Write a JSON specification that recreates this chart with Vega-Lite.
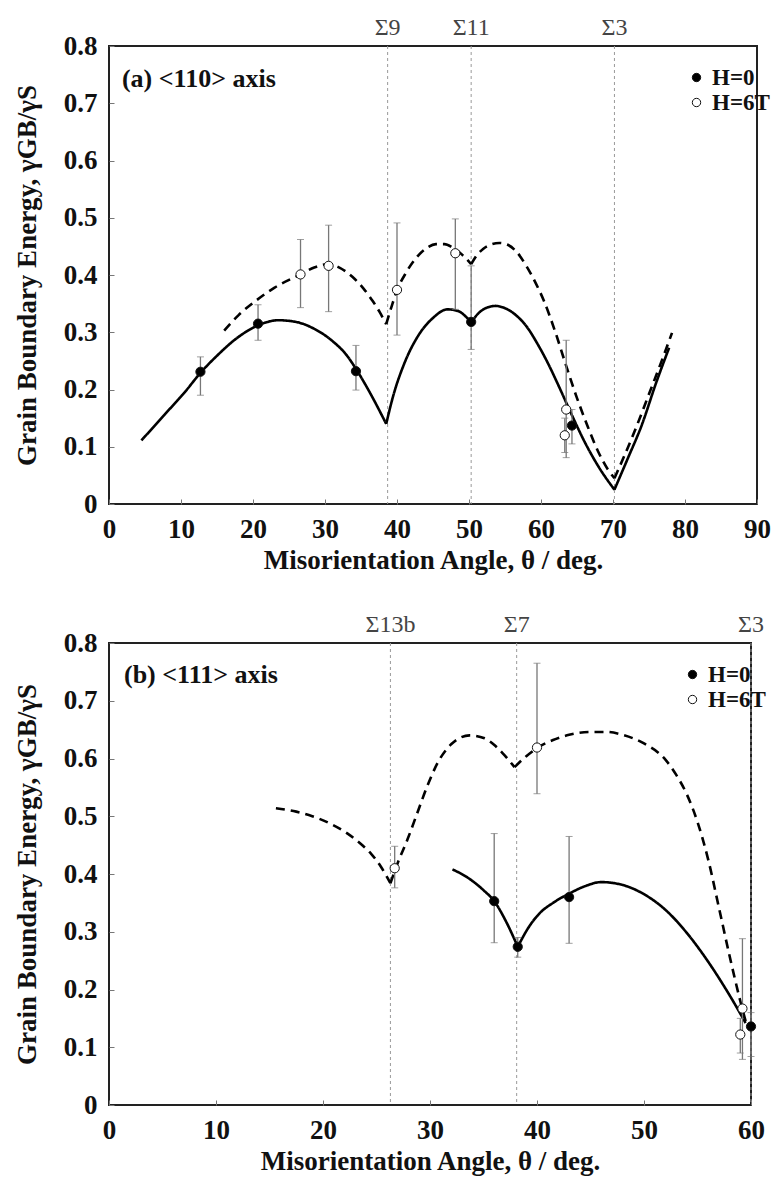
{
  "$schema": "https://vega.github.io/schema/vega-lite/v6.json",
  "background": "white",
  "padding": {"left": 12, "top": 15, "right": 10, "bottom": 4},
  "spacing": 38,
  "config": {
    "font": "Liberation Serif",
    "view": {"stroke": "#222", "strokeWidth": 2},
    "axis": {
      "labelFont": "Liberation Serif", "labelFontSize": 27, "labelFontWeight": "bold", "labelColor": "#111",
      "titleFont": "Liberation Serif", "titleFontSize": 27, "titleFontWeight": "bold", "titleColor": "#111",
      "grid": false, "domain": false, "ticks": true, "tickSize": -5, "tickColor": "#777", "tickWidth": 1,
      "labelFlush": false, "labelOverlap": false
    },
    "axisX": {"labelPadding": 17, "titlePadding": 5},
    "axisY": {"labelPadding": 17, "titlePadding": 22},
    "legend": {
      "labelFont": "Liberation Serif", "labelFontSize": 23, "labelFontWeight": "bold", "labelColor": "#111",
      "symbolType": "circle", "symbolSize": 70, "symbolStrokeColor": "#111", "symbolStrokeWidth": 1,
      "rowPadding": 1, "padding": 0, "labelOffset": 4
    }
  },
  "datasets": {
    "lineA": [
      {"theta": 4.5, "energy": 0.111, "field": "H=0", "seg": "0-1"},
      {"theta": 8, "energy": 0.16, "field": "H=0", "seg": "0-1"},
      {"theta": 10.5, "energy": 0.195, "field": "H=0", "seg": "0-1"},
      {"theta": 12.7, "energy": 0.229, "field": "H=0", "seg": "0-1"},
      {"theta": 15, "energy": 0.259, "field": "H=0", "seg": "0-1"},
      {"theta": 18, "energy": 0.292, "field": "H=0", "seg": "0-1"},
      {"theta": 20.7, "energy": 0.312, "field": "H=0", "seg": "0-1"},
      {"theta": 23.5, "energy": 0.321, "field": "H=0", "seg": "0-1"},
      {"theta": 26, "energy": 0.318, "field": "H=0", "seg": "0-1"},
      {"theta": 28.5, "energy": 0.306, "field": "H=0", "seg": "0-1"},
      {"theta": 31, "energy": 0.285, "field": "H=0", "seg": "0-1"},
      {"theta": 33, "energy": 0.26, "field": "H=0", "seg": "0-1"},
      {"theta": 34.3, "energy": 0.236, "field": "H=0", "seg": "0-1"},
      {"theta": 36.3, "energy": 0.193, "field": "H=0", "seg": "0-1"},
      {"theta": 38.5, "energy": 0.14, "field": "H=0", "seg": "0-1"},
      {"theta": 38.5, "energy": 0.14, "field": "H=0", "seg": "0-2"},
      {"theta": 39.5, "energy": 0.19, "field": "H=0", "seg": "0-2"},
      {"theta": 41, "energy": 0.245, "field": "H=0", "seg": "0-2"},
      {"theta": 43, "energy": 0.295, "field": "H=0", "seg": "0-2"},
      {"theta": 45, "energy": 0.325, "field": "H=0", "seg": "0-2"},
      {"theta": 47, "energy": 0.34, "field": "H=0", "seg": "0-2"},
      {"theta": 48.5, "energy": 0.337, "field": "H=0", "seg": "0-2"},
      {"theta": 49.5, "energy": 0.328, "field": "H=0", "seg": "0-2"},
      {"theta": 50.3, "energy": 0.317, "field": "H=0", "seg": "0-2"},
      {"theta": 50.3, "energy": 0.317, "field": "H=0", "seg": "0-3"},
      {"theta": 51.3, "energy": 0.333, "field": "H=0", "seg": "0-3"},
      {"theta": 52.5, "energy": 0.343, "field": "H=0", "seg": "0-3"},
      {"theta": 53.7, "energy": 0.346, "field": "H=0", "seg": "0-3"},
      {"theta": 55, "energy": 0.342, "field": "H=0", "seg": "0-3"},
      {"theta": 56.5, "energy": 0.33, "field": "H=0", "seg": "0-3"},
      {"theta": 58, "energy": 0.31, "field": "H=0", "seg": "0-3"},
      {"theta": 59.5, "energy": 0.28, "field": "H=0", "seg": "0-3"},
      {"theta": 61, "energy": 0.245, "field": "H=0", "seg": "0-3"},
      {"theta": 62.5, "energy": 0.205, "field": "H=0", "seg": "0-3"},
      {"theta": 64.3, "energy": 0.155, "field": "H=0", "seg": "0-3"},
      {"theta": 66, "energy": 0.11, "field": "H=0", "seg": "0-3"},
      {"theta": 68, "energy": 0.065, "field": "H=0", "seg": "0-3"},
      {"theta": 70.2, "energy": 0.025, "field": "H=0", "seg": "0-3"},
      {"theta": 70.2, "energy": 0.025, "field": "H=0", "seg": "0-4"},
      {"theta": 72, "energy": 0.078, "field": "H=0", "seg": "0-4"},
      {"theta": 74, "energy": 0.138, "field": "H=0", "seg": "0-4"},
      {"theta": 76, "energy": 0.212, "field": "H=0", "seg": "0-4"},
      {"theta": 77.8, "energy": 0.273, "field": "H=0", "seg": "0-4"},
      {"theta": 16, "energy": 0.303, "field": "H=6T", "seg": "6-1"},
      {"theta": 18, "energy": 0.33, "field": "H=6T", "seg": "6-1"},
      {"theta": 20.4, "energy": 0.355, "field": "H=6T", "seg": "6-1"},
      {"theta": 23, "energy": 0.378, "field": "H=6T", "seg": "6-1"},
      {"theta": 26.6, "energy": 0.401, "field": "H=6T", "seg": "6-1"},
      {"theta": 28.5, "energy": 0.413, "field": "H=6T", "seg": "6-1"},
      {"theta": 30.5, "energy": 0.419, "field": "H=6T", "seg": "6-1"},
      {"theta": 32, "energy": 0.413, "field": "H=6T", "seg": "6-1"},
      {"theta": 33.8, "energy": 0.397, "field": "H=6T", "seg": "6-1"},
      {"theta": 35.3, "energy": 0.377, "field": "H=6T", "seg": "6-1"},
      {"theta": 36.6, "energy": 0.355, "field": "H=6T", "seg": "6-1"},
      {"theta": 37.6, "energy": 0.335, "field": "H=6T", "seg": "6-1"},
      {"theta": 38.5, "energy": 0.314, "field": "H=6T", "seg": "6-1"},
      {"theta": 38.5, "energy": 0.314, "field": "H=6T", "seg": "6-2"},
      {"theta": 39.3, "energy": 0.347, "field": "H=6T", "seg": "6-2"},
      {"theta": 40, "energy": 0.373, "field": "H=6T", "seg": "6-2"},
      {"theta": 41.3, "energy": 0.405, "field": "H=6T", "seg": "6-2"},
      {"theta": 42.6, "energy": 0.429, "field": "H=6T", "seg": "6-2"},
      {"theta": 44, "energy": 0.446, "field": "H=6T", "seg": "6-2"},
      {"theta": 45.4, "energy": 0.454, "field": "H=6T", "seg": "6-2"},
      {"theta": 46.6, "energy": 0.454, "field": "H=6T", "seg": "6-2"},
      {"theta": 47.7, "energy": 0.448, "field": "H=6T", "seg": "6-2"},
      {"theta": 49, "energy": 0.436, "field": "H=6T", "seg": "6-2"},
      {"theta": 50.3, "energy": 0.419, "field": "H=6T", "seg": "6-2"},
      {"theta": 50.3, "energy": 0.419, "field": "H=6T", "seg": "6-3"},
      {"theta": 51, "energy": 0.433, "field": "H=6T", "seg": "6-3"},
      {"theta": 52, "energy": 0.446, "field": "H=6T", "seg": "6-3"},
      {"theta": 53, "energy": 0.453, "field": "H=6T", "seg": "6-3"},
      {"theta": 54.2, "energy": 0.456, "field": "H=6T", "seg": "6-3"},
      {"theta": 55.5, "energy": 0.452, "field": "H=6T", "seg": "6-3"},
      {"theta": 56.5, "energy": 0.442, "field": "H=6T", "seg": "6-3"},
      {"theta": 58, "energy": 0.415, "field": "H=6T", "seg": "6-3"},
      {"theta": 59.3, "energy": 0.385, "field": "H=6T", "seg": "6-3"},
      {"theta": 60.4, "energy": 0.355, "field": "H=6T", "seg": "6-3"},
      {"theta": 62, "energy": 0.3, "field": "H=6T", "seg": "6-3"},
      {"theta": 63.4, "energy": 0.245, "field": "H=6T", "seg": "6-3"},
      {"theta": 65, "energy": 0.185, "field": "H=6T", "seg": "6-3"},
      {"theta": 66.5, "energy": 0.135, "field": "H=6T", "seg": "6-3"},
      {"theta": 68, "energy": 0.09, "field": "H=6T", "seg": "6-3"},
      {"theta": 69.3, "energy": 0.06, "field": "H=6T", "seg": "6-3"},
      {"theta": 70.2, "energy": 0.045, "field": "H=6T", "seg": "6-3"},
      {"theta": 70.2, "energy": 0.045, "field": "H=6T", "seg": "6-4"},
      {"theta": 71.5, "energy": 0.082, "field": "H=6T", "seg": "6-4"},
      {"theta": 73, "energy": 0.127, "field": "H=6T", "seg": "6-4"},
      {"theta": 75, "energy": 0.192, "field": "H=6T", "seg": "6-4"},
      {"theta": 77, "energy": 0.258, "field": "H=6T", "seg": "6-4"},
      {"theta": 78.2, "energy": 0.299, "field": "H=6T", "seg": "6-4"}
    ],
    "ptsA": [
      {"theta": 12.7, "energy": 0.231, "lo": 0.19, "hi": 0.257, "field": "H=0"},
      {"theta": 20.7, "energy": 0.315, "lo": 0.286, "hi": 0.348, "field": "H=0"},
      {"theta": 34.3, "energy": 0.232, "lo": 0.199, "hi": 0.277, "field": "H=0"},
      {"theta": 50.3, "energy": 0.318, "lo": 0.27, "hi": 0.416, "field": "H=0"},
      {"theta": 64.3, "energy": 0.137, "lo": 0.105, "hi": 0.165, "field": "H=0"},
      {"theta": 26.6, "energy": 0.401, "lo": 0.343, "hi": 0.462, "field": "H=6T"},
      {"theta": 30.5, "energy": 0.416, "lo": 0.336, "hi": 0.487, "field": "H=6T"},
      {"theta": 40.0, "energy": 0.374, "lo": 0.295, "hi": 0.491, "field": "H=6T"},
      {"theta": 48.1, "energy": 0.438, "lo": 0.34, "hi": 0.498, "field": "H=6T"},
      {"theta": 63.5, "energy": 0.165, "lo": 0.081, "hi": 0.286, "field": "H=6T"},
      {"theta": 63.3, "energy": 0.12, "lo": 0.09, "hi": 0.15, "field": "H=6T"}
    ],
    "sigA": [
      {"theta": 38.7, "label": "Σ9"},
      {"theta": 50.3, "label": "Σ11"},
      {"theta": 70.2, "label": "Σ3"}
    ],
    "lineB": [
      {"theta": 32.1, "energy": 0.408, "field": "H=0", "seg": "0-1"},
      {"theta": 33.5, "energy": 0.394, "field": "H=0", "seg": "0-1"},
      {"theta": 35, "energy": 0.372, "field": "H=0", "seg": "0-1"},
      {"theta": 36, "energy": 0.353, "field": "H=0", "seg": "0-1"},
      {"theta": 37.1, "energy": 0.318, "field": "H=0", "seg": "0-1"},
      {"theta": 38.2, "energy": 0.274, "field": "H=0", "seg": "0-1"},
      {"theta": 38.2, "energy": 0.274, "field": "H=0", "seg": "0-2"},
      {"theta": 39.3, "energy": 0.31, "field": "H=0", "seg": "0-2"},
      {"theta": 40.3, "energy": 0.333, "field": "H=0", "seg": "0-2"},
      {"theta": 41.5, "energy": 0.35, "field": "H=0", "seg": "0-2"},
      {"theta": 43, "energy": 0.366, "field": "H=0", "seg": "0-2"},
      {"theta": 44.5, "energy": 0.379, "field": "H=0", "seg": "0-2"},
      {"theta": 46, "energy": 0.386, "field": "H=0", "seg": "0-2"},
      {"theta": 48, "energy": 0.381, "field": "H=0", "seg": "0-2"},
      {"theta": 50, "energy": 0.365, "field": "H=0", "seg": "0-2"},
      {"theta": 52, "energy": 0.338, "field": "H=0", "seg": "0-2"},
      {"theta": 54, "energy": 0.298, "field": "H=0", "seg": "0-2"},
      {"theta": 56, "energy": 0.248, "field": "H=0", "seg": "0-2"},
      {"theta": 58, "energy": 0.19, "field": "H=0", "seg": "0-2"},
      {"theta": 59.5, "energy": 0.142, "field": "H=0", "seg": "0-2"},
      {"theta": 15.6, "energy": 0.514, "field": "H=6T", "seg": "6-1"},
      {"theta": 17.5, "energy": 0.508, "field": "H=6T", "seg": "6-1"},
      {"theta": 19, "energy": 0.5, "field": "H=6T", "seg": "6-1"},
      {"theta": 20.7, "energy": 0.487, "field": "H=6T", "seg": "6-1"},
      {"theta": 22.3, "energy": 0.47, "field": "H=6T", "seg": "6-1"},
      {"theta": 23.6, "energy": 0.451, "field": "H=6T", "seg": "6-1"},
      {"theta": 24.5, "energy": 0.435, "field": "H=6T", "seg": "6-1"},
      {"theta": 25.4, "energy": 0.413, "field": "H=6T", "seg": "6-1"},
      {"theta": 26.3, "energy": 0.384, "field": "H=6T", "seg": "6-1"},
      {"theta": 26.3, "energy": 0.384, "field": "H=6T", "seg": "6-2"},
      {"theta": 27, "energy": 0.42, "field": "H=6T", "seg": "6-2"},
      {"theta": 27.9, "energy": 0.46, "field": "H=6T", "seg": "6-2"},
      {"theta": 28.8, "energy": 0.505, "field": "H=6T", "seg": "6-2"},
      {"theta": 29.7, "energy": 0.55, "field": "H=6T", "seg": "6-2"},
      {"theta": 30.7, "energy": 0.592, "field": "H=6T", "seg": "6-2"},
      {"theta": 32, "energy": 0.625, "field": "H=6T", "seg": "6-2"},
      {"theta": 33.7, "energy": 0.64, "field": "H=6T", "seg": "6-2"},
      {"theta": 35.1, "energy": 0.635, "field": "H=6T", "seg": "6-2"},
      {"theta": 36.1, "energy": 0.622, "field": "H=6T", "seg": "6-2"},
      {"theta": 37, "energy": 0.605, "field": "H=6T", "seg": "6-2"},
      {"theta": 37.9, "energy": 0.585, "field": "H=6T", "seg": "6-2"},
      {"theta": 37.9, "energy": 0.585, "field": "H=6T", "seg": "6-3"},
      {"theta": 39, "energy": 0.604, "field": "H=6T", "seg": "6-3"},
      {"theta": 40, "energy": 0.618, "field": "H=6T", "seg": "6-3"},
      {"theta": 41.5, "energy": 0.632, "field": "H=6T", "seg": "6-3"},
      {"theta": 43, "energy": 0.641, "field": "H=6T", "seg": "6-3"},
      {"theta": 45, "energy": 0.646, "field": "H=6T", "seg": "6-3"},
      {"theta": 46.5, "energy": 0.646, "field": "H=6T", "seg": "6-3"},
      {"theta": 48, "energy": 0.641, "field": "H=6T", "seg": "6-3"},
      {"theta": 50, "energy": 0.626, "field": "H=6T", "seg": "6-3"},
      {"theta": 52, "energy": 0.598, "field": "H=6T", "seg": "6-3"},
      {"theta": 53, "energy": 0.572, "field": "H=6T", "seg": "6-3"},
      {"theta": 54, "energy": 0.538, "field": "H=6T", "seg": "6-3"},
      {"theta": 55, "energy": 0.49, "field": "H=6T", "seg": "6-3"},
      {"theta": 56, "energy": 0.425, "field": "H=6T", "seg": "6-3"},
      {"theta": 57, "energy": 0.342, "field": "H=6T", "seg": "6-3"},
      {"theta": 58, "energy": 0.258, "field": "H=6T", "seg": "6-3"},
      {"theta": 59, "energy": 0.18, "field": "H=6T", "seg": "6-3"},
      {"theta": 59.5, "energy": 0.145, "field": "H=6T", "seg": "6-3"}
    ],
    "ptsB": [
      {"theta": 36.0, "energy": 0.353, "lo": 0.281, "hi": 0.47, "field": "H=0"},
      {"theta": 38.2, "energy": 0.274, "lo": 0.256, "hi": 0.29, "field": "H=0"},
      {"theta": 43.0, "energy": 0.36, "lo": 0.28, "hi": 0.465, "field": "H=0"},
      {"theta": 60.0, "energy": 0.136, "lo": 0.084, "hi": 0.16, "field": "H=0"},
      {"theta": 26.7, "energy": 0.41, "lo": 0.376, "hi": 0.448, "field": "H=6T"},
      {"theta": 40.0, "energy": 0.619, "lo": 0.539, "hi": 0.765, "field": "H=6T"},
      {"theta": 59.2, "energy": 0.167, "lo": 0.079, "hi": 0.288, "field": "H=6T"},
      {"theta": 59.0, "energy": 0.122, "lo": 0.09, "hi": 0.15, "field": "H=6T"}
    ],
    "sigB": [
      {"theta": 26.3, "label": "Σ13b"},
      {"theta": 38.1, "label": "Σ7"},
      {"theta": 60, "label": "Σ3"}
    ],
    "panels": [
      {"panel": "a", "label": "(a) <110> axis"},
      {"panel": "b", "label": "(b) <111> axis"}
    ]
  },
  "resolve": {"legend": {"fill": "independent"}},
  "vconcat": [
    {
      "width": 648,
      "height": 458,
      "layer": [
        {
          "data": {"name": "sigA"},
          "mark": {"type": "rule", "color": "#999", "strokeWidth": 1, "strokeDash": [3, 3]},
          "encoding": {
            "x": {"field": "theta", "type": "quantitative", "scale": {"domain": [0, 90], "nice": false, "padding": 0, "zero": false},
              "axis": {"values": [0, 10, 20, 30, 40, 50, 60, 70, 80, 90]}, "title": "Misorientation Angle, θ / deg."}
          }
        },
        {
          "data": {"name": "sigA"},
          "mark": {"type": "text", "font": "Liberation Serif", "fontSize": 24, "color": "#444", "baseline": "bottom", "dy": -6},
          "encoding": {
            "x": {"field": "theta", "type": "quantitative", "title": "Misorientation Angle, θ / deg."},
            "y": {"datum": 0.8, "type": "quantitative", "title": "Grain Boundary Energy, γGB/γS"},
            "text": {"field": "label"}
          }
        },
        {
          "data": {"name": "lineA"},
          "mark": {"type": "line", "color": "#000", "strokeWidth": 2.6, "interpolate": "monotone"},
          "encoding": {
            "x": {"field": "theta", "type": "quantitative", "title": "Misorientation Angle, θ / deg."},
            "y": {"field": "energy", "type": "quantitative", "scale": {"domain": [0, 0.8], "nice": false, "padding": 0},
              "axis": {"values": [0, 0.1, 0.2, 0.3, 0.4, 0.5, 0.6, 0.7, 0.8], "labelExpr": "datum.value == 0 ? '0' : format(datum.value, '.1f')"}, "title": "Grain Boundary Energy, γGB/γS"},
            "detail": {"field": "seg"},
            "strokeDash": {"field": "field", "type": "nominal", "scale": {"domain": ["H=0", "H=6T"], "range": [[1, 0], [9, 6]]}, "legend": null}
          }
        },
        {
          "data": {"name": "ptsA"},
          "mark": {"type": "errorbar", "ticks": {"size": 7, "color": "#777"}, "rule": {"color": "#777", "strokeWidth": 1.3}},
          "encoding": {
            "x": {"field": "theta", "type": "quantitative", "title": "Misorientation Angle, θ / deg."},
            "y": {"field": "lo", "type": "quantitative", "title": "Grain Boundary Energy, γGB/γS"},
            "y2": {"field": "hi"}
          }
        },
        {
          "data": {"name": "ptsA"},
          "mark": {"type": "point", "shape": "circle", "filled": true, "opacity": 1, "stroke": "#111", "strokeWidth": 1, "size": 85},
          "encoding": {
            "x": {"field": "theta", "type": "quantitative", "title": "Misorientation Angle, θ / deg."},
            "y": {"field": "energy", "type": "quantitative", "title": "Grain Boundary Energy, γGB/γS"},
            "fill": {"field": "field", "type": "nominal", "scale": {"domain": ["H=0", "H=6T"], "range": ["#000", "#fff"]},
              "legend": {"title": null, "orient": "none", "legendX": 576, "legendY": 20}}
          }
        },
        {
          "data": {"name": "panels"},
          "transform": [{"filter": "datum.panel == 'a'"}],
          "mark": {"type": "text", "font": "Liberation Serif", "fontSize": 26, "fontWeight": "bold", "color": "#111", "align": "left", "baseline": "middle"},
          "encoding": {
            "x": {"datum": 1.8, "type": "quantitative"},
            "y": {"datum": 0.742, "type": "quantitative"},
            "text": {"field": "label"}
          }
        }
      ]
    },
    {
      "width": 642,
      "height": 462,
      "layer": [
        {
          "data": {"name": "sigB"},
          "mark": {"type": "rule", "color": "#999", "strokeWidth": 1, "strokeDash": [3, 3]},
          "encoding": {
            "x": {"field": "theta", "type": "quantitative", "scale": {"domain": [0, 60], "nice": false, "padding": 0, "zero": false},
              "axis": {"values": [0, 10, 20, 30, 40, 50, 60]}, "title": "Misorientation Angle, θ / deg."}
          }
        },
        {
          "data": {"name": "sigB"},
          "mark": {"type": "text", "font": "Liberation Serif", "fontSize": 24, "color": "#444", "baseline": "bottom", "dy": -6},
          "encoding": {
            "x": {"field": "theta", "type": "quantitative", "title": "Misorientation Angle, θ / deg."},
            "y": {"datum": 0.8, "type": "quantitative", "title": "Grain Boundary Energy, γGB/γS"},
            "text": {"field": "label"}
          }
        },
        {
          "data": {"name": "lineB"},
          "mark": {"type": "line", "color": "#000", "strokeWidth": 2.6, "interpolate": "monotone"},
          "encoding": {
            "x": {"field": "theta", "type": "quantitative", "title": "Misorientation Angle, θ / deg."},
            "y": {"field": "energy", "type": "quantitative", "scale": {"domain": [0, 0.8], "nice": false, "padding": 0},
              "axis": {"values": [0, 0.1, 0.2, 0.3, 0.4, 0.5, 0.6, 0.7, 0.8], "labelExpr": "datum.value == 0 ? '0' : format(datum.value, '.1f')"}, "title": "Grain Boundary Energy, γGB/γS"},
            "detail": {"field": "seg"},
            "strokeDash": {"field": "field", "type": "nominal", "scale": {"domain": ["H=0", "H=6T"], "range": [[1, 0], [9, 6]]}, "legend": null}
          }
        },
        {
          "data": {"name": "ptsB"},
          "mark": {"type": "errorbar", "ticks": {"size": 7, "color": "#777"}, "rule": {"color": "#777", "strokeWidth": 1.3}},
          "encoding": {
            "x": {"field": "theta", "type": "quantitative", "title": "Misorientation Angle, θ / deg."},
            "y": {"field": "lo", "type": "quantitative", "title": "Grain Boundary Energy, γGB/γS"},
            "y2": {"field": "hi"}
          }
        },
        {
          "data": {"name": "ptsB"},
          "mark": {"type": "point", "shape": "circle", "filled": true, "opacity": 1, "stroke": "#111", "strokeWidth": 1, "size": 85},
          "encoding": {
            "x": {"field": "theta", "type": "quantitative", "title": "Misorientation Angle, θ / deg."},
            "y": {"field": "energy", "type": "quantitative", "title": "Grain Boundary Energy, γGB/γS"},
            "fill": {"field": "field", "type": "nominal", "scale": {"domain": ["H=0", "H=6T"], "range": ["#000", "#fff"]},
              "legend": {"title": null, "orient": "none", "legendX": 572, "legendY": 20}}
          }
        },
        {
          "data": {"name": "panels"},
          "transform": [{"filter": "datum.panel == 'b'"}],
          "mark": {"type": "text", "font": "Liberation Serif", "fontSize": 26, "fontWeight": "bold", "color": "#111", "align": "left", "baseline": "middle"},
          "encoding": {
            "x": {"datum": 1.4, "type": "quantitative"},
            "y": {"datum": 0.745, "type": "quantitative"},
            "text": {"field": "label"}
          }
        }
      ]
    }
  ]
}
